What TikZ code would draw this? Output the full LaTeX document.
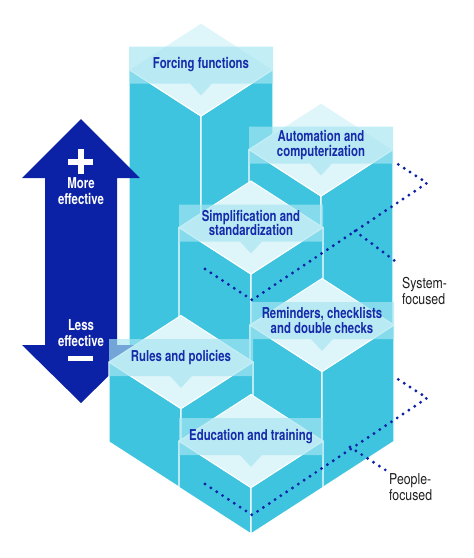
\documentclass[tikz,border=0pt]{standalone}
\usepackage{fontspec}
\setmainfont{TeX Gyre Heros}[FakeStretch=0.82]
\newfontfamily\lblfont{TeX Gyre Heros}[FakeStretch=0.76]
\definecolor{facec}{RGB}{62,196,222}
\definecolor{topc}{RGB}{222,245,250}
\definecolor{bandc}{RGB}{168,230,242}
\definecolor{navy}{RGB}{12,34,166}
\definecolor{labc}{RGB}{22,42,170}
\newcommand\bxw{72}
\newcommand\bxh{46.5}
\tikzset{
  facestyle/.style={fill=facec,draw=white,line width=1.2pt,line join=round},
  topstyle/.style={fill=topc,draw=white,line width=1pt,line join=round},
  bandstyle/.style={fill=bandc,fill opacity=0.67},
  labelstyle/.style={text=labc,font=\lblfont\bfseries\fontsize{15}{14.5}\selectfont,align=center,inner sep=0pt},
  arrowtext/.style={text=white,font=\lblfont\bfseries\fontsize{15}{16}\selectfont,align=center,inner sep=0pt},
  sidetext/.style={text=black!88,font=\fontsize{15}{16}\selectfont,align=left,inner sep=0pt,anchor=west},
  dotline/.style={draw=navy,line width=3.2pt,line cap=round,dash pattern=on 0pt off 7pt}
}
% #1 name, #2 cx, #3 cy, #4 ground y of front edge, #5 text
\newcommand{\isobox}[5]{%
  \path[facestyle] (#2-\bxw,#3) -- (#2,#3+\bxh) -- (#2,#4) -- (#2-\bxw,#4-\bxh) -- cycle;
  \path[facestyle] (#2,#3+\bxh) -- (#2+\bxw,#3) -- (#2+\bxw,#4-\bxh) -- (#2,#4) -- cycle;
  \path[topstyle] (#2-\bxw,#3) -- (#2,#3-\bxh) -- (#2+\bxw,#3) -- (#2,#3+\bxh) -- cycle;
  \path[bandstyle] (#2-\bxw,#3-23) -- (#2+\bxw,#3-23) -- (#2+\bxw,#3+14) -- (#2+11,#3+14)
     -- (#2,#3+26) -- (#2-11,#3+14) -- (#2-\bxw,#3+14) -- cycle;
  \node[labelstyle] (#1) at (#2,#3-4.5) {#5};
}
\begin{document}
\begin{tikzpicture}[x=1pt,y=-1pt]
\useasboundingbox (0,0) rectangle (474,558);
\fill[white] (0,0) rectangle (474,558);

\isobox{forcing}{201}{69.5}{420}{Forcing functions}

% double arrow
\fill[navy] (81,119) -- (140,178) -- (117,178) -- (117,345) -- (140,345) -- (81,403)
   -- (22,345) -- (45,345) -- (45,178) -- (22,178) -- cycle;
\fill[white] (68,159) rectangle (93,165);
\fill[white] (78,149) rectangle (84,174);
\fill[white] (68,355.5) rectangle (93,361);
\node[arrowtext] (more) at (81,191) {More\\effective};
\node[arrowtext] (less) at (81,333) {Less\\effective};

\isobox{automation}{321}{149.5}{395}{Automation and\\computerization}
\isobox{simpl}{251}{227.5}{441}{Simplification and\\standardization}
\isobox{reminders}{322}{325}{488}{Reminders, checklists\\and double checks}
\isobox{rules}{181}{362}{488.5}{Rules and policies}
\isobox{education}{251}{441}{534}{Education and training}

% system-focused bracket
\coordinate (s1) at (205,269);
\coordinate (s2) at (252,300);
\coordinate (s3) at (427,183);
\coordinate (s4) at (393,161);
\coordinate (sb) at (355,231);
\coordinate (se) at (399,264);
\draw[dotline] (s1) -- (s2) -- (s3) -- (s4);
\draw[dotline] (sb) -- (se);
\node[sidetext] (system) at (402,291) {System-\\focused};

% people-focused bracket
\coordinate (p1) at (205,484);
\coordinate (p2) at (252,515);
\coordinate (p3) at (427,398);
\coordinate (p4) at (393,376);
\coordinate (pb) at (350,447);
\coordinate (pe) at (387,471);
\draw[dotline] (p1) -- (p2) -- (p3) -- (p4);
\draw[dotline] (pb) -- (pe);
\node[sidetext] (people) at (389,487) {People-\\focused};
\end{tikzpicture}
\end{document}
